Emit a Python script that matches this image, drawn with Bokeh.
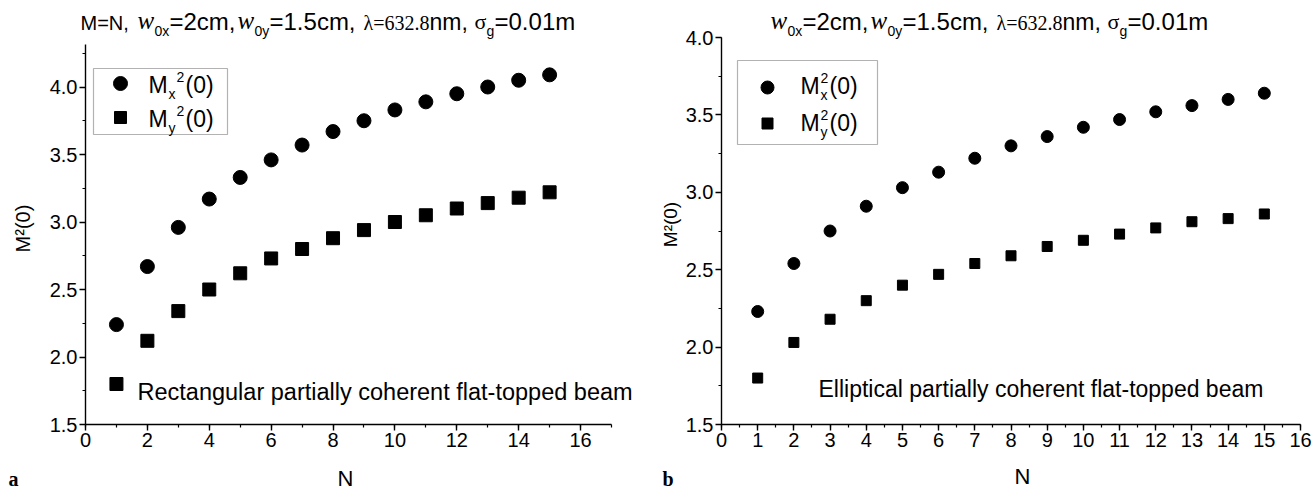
import numpy as np
from bokeh.plotting import figure
from bokeh.models import Range1d, FixedTicker, Label, BoxAnnotation, PrintfTickFormatter
from bokeh.layouts import row
from bokeh.embed import file_html
from bokeh.resources import INLINE

# ---------------- data ----------------
N = list(range(1, 16))
rect_mx2 = [2.24, 2.67, 2.96, 3.17, 3.33, 3.46, 3.57, 3.67, 3.75, 3.83, 3.89, 3.95, 4.00, 4.05, 4.09]
rect_my2 = [1.80, 2.12, 2.34, 2.50, 2.62, 2.73, 2.80, 2.88, 2.94, 3.00, 3.05, 3.10, 3.14, 3.18, 3.22]
ell_mx2 = [2.23, 2.54, 2.75, 2.91, 3.03, 3.13, 3.22, 3.30, 3.36, 3.42, 3.47, 3.52, 3.56, 3.60, 3.64]
ell_my2 = [1.80, 2.03, 2.18, 2.30, 2.40, 2.47, 2.54, 2.59, 2.65, 2.69, 2.73, 2.77, 2.81, 2.83, 2.86]

left_x_ticks = [0, 2, 4, 6, 8, 10, 12, 14, 16]
right_x_ticks = list(range(0, 17))
y_ticks = [1.5, 2.0, 2.5, 3.0, 3.5, 4.0]

SANS = "Liberation Sans"
SERIF = "Liberation Serif"
W, H = 656, 492


def make_panel(offset, fl, fr, ft, fb, xr, yr, xmaj, xmin, ymaj, ymin, tick_size):
    """Panel covering page x in [offset, offset+W]; data area spans pixels
    fl..fr horizontally and ft..fb vertically (page coordinates)."""
    kx = (xr[1] - xr[0]) / (fr - fl)
    ky = (yr[1] - yr[0]) / (fb - ft)
    x_start = xr[0] - (fl - offset) * kx
    x_end = xr[1] + (offset + W - fr) * kx
    y_start = yr[0] - (H - fb) * ky
    y_end = yr[1] + ft * ky
    p = figure(frame_width=W, frame_height=H,
               min_border_left=0, min_border_right=0,
               min_border_top=0, min_border_bottom=0,
               x_range=Range1d(x_start, x_end), y_range=Range1d(y_start, y_end),
               output_backend="svg", toolbar_location=None, tools="",
               background_fill_color="white", border_fill_color="white")
    p.outline_line_color = None
    p.xgrid.visible = False
    p.ygrid.visible = False
    p.xaxis.ticker = FixedTicker(ticks=xmaj, minor_ticks=xmin)
    p.yaxis.ticker = FixedTicker(ticks=ymaj, minor_ticks=ymin)
    p.yaxis.formatter = PrintfTickFormatter(format="%.1f")
    p.xaxis.fixed_location = yr[0]
    p.yaxis.fixed_location = xr[0]
    p.xaxis.bounds = (xr[0], xr[1])
    p.yaxis.bounds = (yr[0], yr[1])
    for ax in (p.xaxis[0], p.yaxis[0]):
        ax.axis_line_color = "black"
        ax.axis_line_width = 1.4
        ax.major_tick_line_color = "black"
        ax.major_tick_line_width = 1.4
        ax.minor_tick_line_color = "black"
        ax.minor_tick_line_width = 1.2
        ax.major_tick_in = 0
        ax.major_tick_out = 6
        ax.minor_tick_in = 0
        ax.minor_tick_out = 3
        ax.major_label_text_font = SANS
        ax.major_label_text_font_size = f"{tick_size}px"
        ax.major_label_text_color = "black"
        ax.major_label_standoff = 2

    def cx(px):
        return xr[0] + (px - fl) * kx

    def cy(py):
        return yr[0] + (fb - py) * ky
    return p, cx, cy


def lab(p, cx, cy, px, base, text, size, font=SANS, style="normal",
        align="left", angle=0.0, centered=False):
    """Place text with its baseline at page pixel y=base (or centred there)."""
    yc = base if centered else base - 0.347 * size
    p.add_layout(Label(x=cx(px), y=cy(yc), text=text, text_font=font,
                       text_font_size=f"{size}px", text_font_style=style,
                       text_align=align, text_baseline="middle", angle=angle,
                       text_color="black"))


def title(p, cx, cy, w0, base, with_mn):
    pieces = [
        (0, "w", SERIF, 25, "italic", 0),
        (17, "0x", SANS, 14, "normal", 6),
        (32, "=2cm,", SANS, 24, "normal", 0),
        (100, "w", SERIF, 25, "italic", 0),
        (117, "0y", SANS, 14, "normal", 6),
        (132, "=1.5cm,", SANS, 24, "normal", 0),
        (226, "\u03bb=632.8", SERIF, 20, "normal", 0),
        (292, "nm,", SANS, 23, "normal", 0),
        (337, "\u03c3", SERIF, 22, "normal", 0),
        (349, "g", SANS, 14, "normal", 6),
        (357, "=0.01m", SANS, 24, "normal", 0),
    ]
    if with_mn:
        pieces = [(-57, "M=N,", SANS, 20, "normal", 0)] + pieces
    for off, t, f, s, st, d in pieces:
        lab(p, cx, cy, w0 + off, base + d, t, s, font=f, style=st)


def legend(p, cx, cy, box, circ, sq, msize, txt_x, rows, stacked):
    l, r, t, b = box
    p.add_layout(BoxAnnotation(left=cx(l), right=cx(r), top=cy(t), bottom=cy(b),
                               fill_color="white", fill_alpha=1.0,
                               line_color="black", line_width=1.2, level="underlay"))
    p.scatter([cx(circ[0])], [cy(circ[1])], marker="circle", size=msize[0], color="black")
    p.scatter([cx(sq[0])], [cy(sq[1])], marker="square", size=msize[1], color="black")
    for sub, base in zip(["x", "y"], rows):
        lab(p, cx, cy, txt_x, base, "M", 23)
        lab(p, cx, cy, txt_x + 20, base + 6, sub, 14)
        if stacked:
            lab(p, cx, cy, txt_x + 20, base - 11, "2", 14)
            lab(p, cx, cy, txt_x + 29, base, "(0)", 23)
        else:
            lab(p, cx, cy, txt_x + 28, base - 11, "2", 14)
            lab(p, cx, cy, txt_x + 37, base, "(0)", 23)


# ---------------- left panel ----------------
pa, ax_, ay_ = make_panel(0, 85, 611, 44, 424, (0, 17), (1.5, 1.5 + 380 / 135.0),
                          left_x_ticks, list(range(0, 18)), y_ticks,
                          [1.5 + 0.25 * i for i in range(12)], 20)
pa.scatter(N, rect_mx2, marker="circle", size=14, color="black")
pa.scatter(N, rect_my2, marker="square", size=13, color="black")
title(pa, ax_, ay_, 137, 29, True)
legend(pa, ax_, ay_, (93, 227, 68, 134), (120, 83), (120, 117), (14, 12), 148, (92, 126), False)
lab(pa, ax_, ay_, 137, 400, "Rectangular partially coherent flat-topped beam", 23.5)
lab(pa, ax_, ay_, 345, 478, "N", 22, align="center", centered=True)
lab(pa, ax_, ay_, 22, 228, "M\u00b2(0)", 20, align="center", angle=np.pi / 2, centered=True)
lab(pa, ax_, ay_, 8, 478, "a", 20, font=SERIF, style="bold", centered=True)

# ---------------- right panel ----------------
pb, bx_, by_ = make_panel(656, 721, 1300, 37, 424, (0, 16), (1.5, 4.0),
                          right_x_ticks, [0.5 * i for i in range(33)], y_ticks,
                          [1.5 + 0.25 * i for i in range(11)], 20)
pb.scatter(N, ell_mx2, marker="circle", size=12, color="black")
pb.scatter(N, ell_my2, marker="square", size=10, color="black")
title(pb, bx_, by_, 770, 29, False)
legend(pb, bx_, by_, (737, 877, 60, 144), (767, 87), (767, 123), (13, 11), 800, (93, 130), True)
lab(pb, bx_, by_, 818, 396, "Elliptical partially coherent flat-topped beam", 23)
lab(pb, bx_, by_, 1022, 476, "N", 22, align="center", centered=True)
lab(pb, bx_, by_, 670, 224, "M\u00b2(0)", 19, align="center", angle=np.pi / 2, centered=True)
lab(pb, bx_, by_, 662, 478, "b", 20, font=SERIF, style="bold", centered=True)

layout = row(pa, pb)
open("out.html", "w").write(file_html(layout, INLINE))
